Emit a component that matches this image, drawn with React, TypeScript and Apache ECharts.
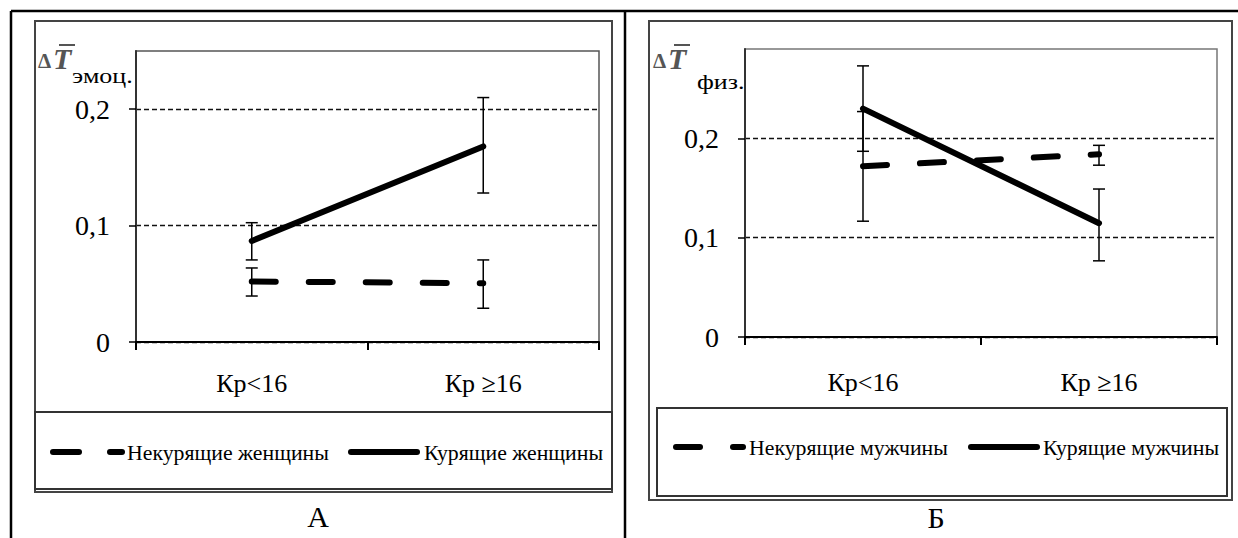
import React, { useEffect, useRef } from "react";
import * as echarts from "echarts";

const SERIF = "Liberation Serif";

const categories = ["Кр<16", "Кр ≥16"];
const yTicks = [0, 0.1, 0.2];

// Panel А — emotional, women
const womenNonSmoking = [0.052, 0.0505];
const womenNonSmokingLow = [0.0395, 0.029];
const womenNonSmokingHigh = [0.0636, 0.0705];
const womenSmoking = [0.0868, 0.168];
const womenSmokingLow = [0.0705, 0.128];
const womenSmokingHigh = [0.1025, 0.21];

// Panel Б — physical, men
const menNonSmoking = [0.172, 0.184];
const menNonSmokingLow = [0.187, 0.173];
const menNonSmokingHigh = [0.227, 0.193];
const menSmoking = [0.23, 0.1146];
const menSmokingLow = [0.1166, 0.0767];
const menSmokingHigh = [0.273, 0.149];

const legendA = ["Некурящие женщины", "Курящие женщины"];
const legendB = ["Некурящие мужчины", "Курящие мужчины"];

function makeY(gridIndex: number, max: number) {
  return {
    type: "value",
    gridIndex,
    min: 0,
    max,
    interval: 0.1,
    axisLine: { show: true, lineStyle: { color: "#333", width: 2 } },
    axisTick: { show: true, length: 7, customValues: yTicks, lineStyle: { color: "#000", width: 1.5 } },
    axisLabel: {
      customValues: yTicks,
      margin: 26,
      fontFamily: SERIF,
      fontSize: 28,
      color: "#000",
      formatter: (v: number) => String(Math.round(v * 10) / 10).replace(".", ","),
    },
    splitLine: { show: true, lineStyle: { color: "#111", width: 1.3, type: [5, 3] } },
  };
}

function makeX(gridIndex: number, margin: number) {
  return {
    type: "category",
    gridIndex,
    data: categories,
    boundaryGap: true,
    axisLine: { show: true, lineStyle: { color: "#000", width: 2 } },
    axisTick: { show: true, interval: 0, length: 8, lineStyle: { color: "#000", width: 2 } },
    axisLabel: { interval: 0, margin, fontFamily: SERIF, fontSize: 26, color: "#000" },
    splitLine: { show: false },
  };
}

function lineSeries(idx: number, data: number[], dashed: boolean) {
  return {
    type: "line",
    xAxisIndex: idx,
    yAxisIndex: idx,
    data,
    symbol: "none",
    showSymbol: false,
    z: 2,
    lineStyle: dashed
      ? { color: "#000", width: 6, type: [24, 33], cap: "round" }
      : { color: "#000", width: 6, type: "solid", cap: "round" },
  };
}

function errorSeries(idx: number, low: number[], high: number[]) {
  return {
    type: "custom",
    xAxisIndex: idx,
    yAxisIndex: idx,
    z: 3,
    data: low.map((l, i) => [i, l, high[i]]),
    encode: { x: 0, y: [1, 2] },
    renderItem: (_params: any, api: any) => {
      const x = api.value(0);
      const lo = api.coord([x, api.value(1)]);
      const hi = api.coord([x, api.value(2)]);
      const hw = 6;
      const style = { stroke: "#000", lineWidth: 1.5 };
      return {
        type: "group",
        children: [
          { type: "line", shape: { x1: lo[0], y1: lo[1], x2: hi[0], y2: hi[1] }, style },
          { type: "line", shape: { x1: lo[0] - hw, y1: lo[1], x2: lo[0] + hw, y2: lo[1] }, style },
          { type: "line", shape: { x1: hi[0] - hw, y1: hi[1], x2: hi[0] + hw, y2: hi[1] }, style },
        ],
      };
    },
  };
}

function seg(x1: number, y1: number, x2: number, y2: number, w: number, color = "#000", cap = "round") {
  return { type: "line", shape: { x1, y1, x2, y2 }, style: { stroke: color, lineWidth: w, lineCap: cap }, z: 10 };
}

function rect(x: number, y: number, width: number, height: number, color: string, w: number) {
  return { type: "rect", shape: { x, y, width, height }, style: { fill: "none", stroke: color, lineWidth: w }, z: 0 };
}

function txt(text: string, x: number, y: number, size: number, opts: any = {}) {
  const style: any = {
    text,
    fontFamily: SERIF,
    fontSize: size,
    fill: opts.color ?? "#000",
    textAlign: opts.align ?? "left",
    textVerticalAlign: "middle",
  };
  if (opts.italic) style.fontStyle = "italic";
  if (opts.bold) style.fontWeight = "bold";
  return { type: "text", x, y, scaleX: opts.scaleX ?? 1, z: 10, style };
}

function yTitle(x: number, y: number, sub: string, subX: number, subY: number) {
  return [
    txt("Δ", x, y + 3, 21, { color: "#555", bold: true }),
    txt("T", x + 15, y, 30, { color: "#555", italic: true, bold: true }),
    seg(x + 21, y - 13, x + 37, y - 13, 2, "#555", "butt"),
    txt(sub, subX, subY, 22, { scaleX: 1.18 }),
  ];
}

const graphic: any[] = [
  seg(11, 11, 1238, 11, 2.5, "#000", "butt"),
  seg(11, 11, 11, 538, 2.5, "#000", "butt"),
  seg(625, 11, 625, 538, 2.5, "#000", "butt"),
  rect(35, 21, 577, 471, "#444", 2),
  rect(35, 412, 577, 77, "#333", 2),
  seg(53, 452, 79, 452, 6),
  seg(110, 452, 122, 452, 6),
  txt(legendA[0], 127, 453, 20, { scaleX: 1.09 }),
  seg(351, 452, 417, 452, 6),
  txt(legendA[1], 424, 453, 20, { scaleX: 1.09 }),
  ...yTitle(38, 58, "эмоц.", 72, 76),
  txt("А", 318, 516, 30, { align: "center" }),
  rect(649, 21, 583, 479, "#444", 2),
  rect(657, 408, 570, 88, "#333", 2),
  seg(676, 447, 700, 447, 6),
  seg(733, 447, 743, 447, 6),
  txt(legendB[0], 749, 448, 20, { scaleX: 1.09 }),
  seg(971, 447, 1037, 447, 6),
  txt(legendB[1], 1043, 448, 20, { scaleX: 1.09 }),
  ...yTitle(653, 58, "физ.", 697, 82),
  txt("Б", 936, 517, 30, { align: "center" }),
];

const option: any = {
  animation: false,
  backgroundColor: "#fff",
  grid: [
    { left: 136, top: 51, width: 463, height: 291, show: true, borderColor: "#555", borderWidth: 1.5, backgroundColor: "transparent" },
    { left: 745, top: 49, width: 472, height: 288, show: true, borderColor: "#777", borderWidth: 1.5, backgroundColor: "transparent" },
  ],
  xAxis: [makeX(0, 28), makeX(1, 32)],
  yAxis: [makeY(0, 0.25), makeY(1, 0.29)],
  series: [
    lineSeries(0, womenNonSmoking, true),
    lineSeries(0, womenSmoking, false),
    errorSeries(0, womenNonSmokingLow, womenNonSmokingHigh),
    errorSeries(0, womenSmokingLow, womenSmokingHigh),
    lineSeries(1, menNonSmoking, true),
    lineSeries(1, menSmoking, false),
    errorSeries(1, menNonSmokingLow, menNonSmokingHigh),
    errorSeries(1, menSmokingLow, menSmokingHigh),
  ],
  graphic,
};

export default function App() {
  const ref = useRef<HTMLDivElement>(null);
  useEffect(() => {
    document.body.style.margin = "0";
    const chart = echarts.init(ref.current!, null, { renderer: "svg" });
    chart.setOption(option);
    return () => chart.dispose();
  }, []);
  return <div ref={ref} style={{ width: 1238, height: 538, background: "#fff" }} />;
}
